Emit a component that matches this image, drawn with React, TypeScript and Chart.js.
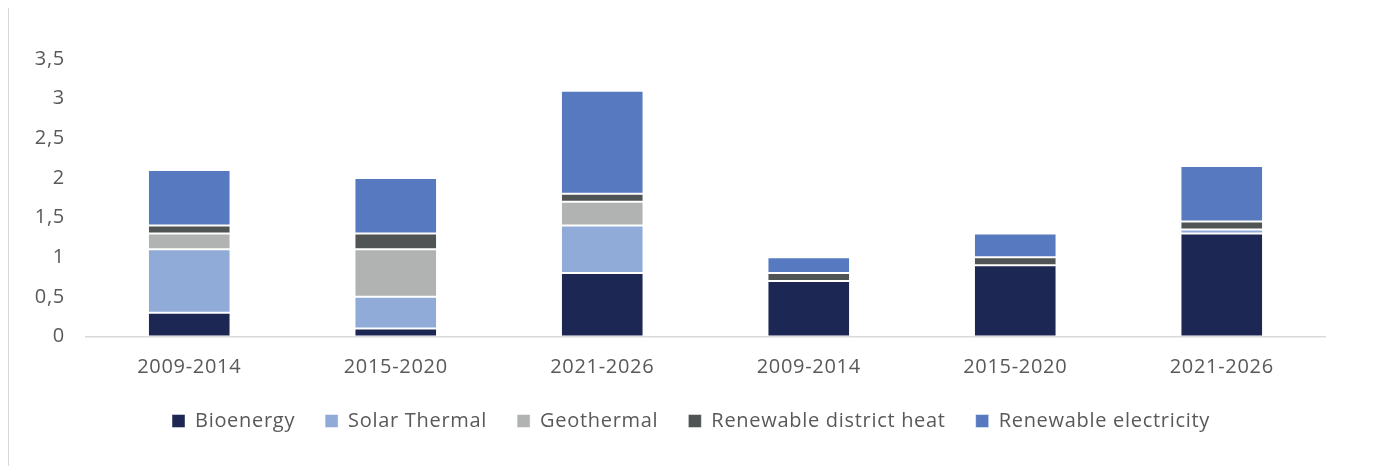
import React, { useEffect, useRef } from 'react';
import { Chart, registerables } from 'chart.js';
Chart.register(...registerables);

const categories = ['2009-2014', '2015-2020', '2021-2026', '2009-2014', '2015-2020', '2021-2026'];
const bioenergy = [0.3, 0.1, 0.8, 0.7, 0.9, 1.3];
const solarThermal = [0.8, 0.4, 0.6, 0, 0, 0.05];
const geothermal = [0.2, 0.6, 0.3, 0, 0, 0];
const districtHeat = [0.1, 0.2, 0.1, 0.1, 0.1, 0.1];
const renewableElectricity = [0.7, 0.7, 1.3, 0.2, 0.3, 0.7];
const yTickLabels = ['0', '0,5', '1', '1,5', '2', '2,5', '3', '3,5'];

const FONT = '"Open Sans", sans-serif';
const TEXT = '#595959';
const SPACING = '0.7px';

const spacingPlugin = {
  id: 'letterSpacing',
  beforeUpdate(chart: any) {
    chart.ctx.letterSpacing = SPACING;
  },
  beforeDraw(chart: any) {
    chart.ctx.letterSpacing = SPACING;
  },
};

const legendShiftPlugin = {
  id: 'legendShift',
  afterLayout(chart: any) {
    const l = chart.legend;
    if (l) {
      l.left += 24;
      l.right += 24;
    }
  },
};

export default function App() {
  const ref = useRef<HTMLCanvasElement>(null);
  useEffect(() => {
    const mk = (label: string, data: number[], color: string) => ({
      label,
      data,
      backgroundColor: color,
      borderColor: 'rgba(255,255,255,0.45)',
      borderWidth: 1,
      borderSkipped: false as const,
      categoryPercentage: 1,
      barPercentage: 0.4,
    });
    const chart = new Chart(ref.current!, {
      type: 'bar',
      data: {
        labels: categories,
        datasets: [
          mk('Bioenergy', bioenergy, '#1c2753'),
          mk('Solar Thermal', solarThermal, '#91abd9'),
          mk('Geothermal', geothermal, '#b1b3b3'),
          mk('Renewable district heat', districtHeat, '#515455'),
          mk('Renewable electricity', renewableElectricity, '#5679bf'),
        ],
      },
      plugins: [spacingPlugin, legendShiftPlugin],
      options: {
        responsive: false,
        animation: false,
        layout: { padding: { left: 0, right: 60, top: 51, bottom: 26 } },
        plugins: {
          tooltip: { enabled: false },
          legend: {
            position: 'bottom',
            labels: {
              boxWidth: 13,
              boxHeight: 13,
              padding: 30,
              color: TEXT,
              font: { family: FONT, size: 20 },
            },
          },
        },
        scales: {
          x: {
            stacked: true,
            grid: { display: false, drawTicks: false },
            border: { display: true, color: '#d9d9d9', width: 1.5 },
            ticks: { color: TEXT, font: { family: FONT, size: 20 }, padding: 18.5, maxRotation: 0, autoSkip: false },
            afterFit: (s: any) => { s.height = 44.5; },
          },
          y: {
            stacked: true,
            min: 0,
            max: 3.5,
            grid: { display: false, drawTicks: false },
            border: { display: false },
            ticks: {
              stepSize: 0.5,
              color: TEXT,
              font: { family: FONT, size: 20 },
              padding: 21,
              callback: (_v: any, i: number) => yTickLabels[i],
            },
            afterFit: (s: any) => { s.width = 77; },
          },
        },
      },
    });
    return () => chart.destroy();
  }, []);
  return (
    <div
      style={{
        width: 1378,
        height: 460,
        boxSizing: 'border-box',
        border: '1px solid #d9d9d9',
        borderBottom: 'none',
        marginTop: -1,
      }}
    >
      <canvas ref={ref} width={1376} height={459} style={{ display: 'block' }} />
    </div>
  );
}
